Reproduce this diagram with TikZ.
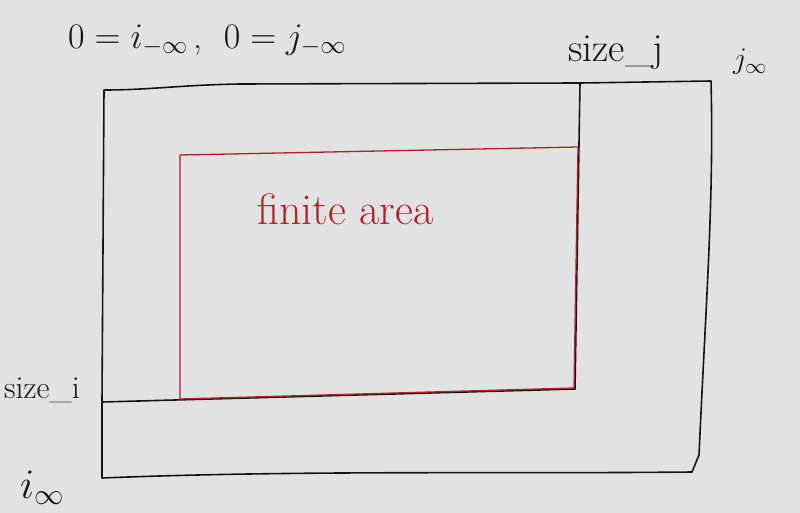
\RequirePackage{fix-cm}
\documentclass[tikz,border=0pt]{standalone}
\usepackage{fontspec}
\definecolor{paper}{RGB}{224,226,227}
\definecolor{ink}{RGB}{20,20,20}
\definecolor{redink}{RGB}{185,30,35}
\tikzset{
  blackline/.style={draw=ink, line width=1.6pt, line join=round, line cap=round},
  redline/.style={draw=redink, line width=1.3pt, line join=round, line cap=round},
  hand/.style={text=ink, inner sep=0pt},
  redhand/.style={text=redink, inner sep=0pt, font=\fontsize{44}{46}\selectfont}
}
\begin{document}
\begin{tikzpicture}[x=1pt,y=-1pt]
\fill[paper] (0,0) rectangle (800,513);
\useasboundingbox (0,0) rectangle (800,513);
% corner coordinates
\coordinate (otl) at (104,90);
\coordinate (sj) at (580,83);
\coordinate (otr) at (711,81);
\coordinate (obr) at (692,472);
\coordinate (obl) at (102,478);
\coordinate (si) at (102,402);
\coordinate (sjb) at (575,389);
\coordinate (rtl) at (180,155);
\coordinate (rtr) at (578,147);
\coordinate (rbr) at (574,388);
\coordinate (rbl) at (180,399);
% outer box
\draw[blackline] (otl) .. controls (150,90) and (180,85) .. (240,84) -- (sj) -- (otr)
  .. controls (714,200) and (706,300) .. (699,455) -- (obr)
  .. controls (500,474) and (300,470) .. (obl) -- (si) -- (otl);
% size lines
\draw[blackline] (sj) -- (sjb);
\draw[blackline] (si) -- (sjb);
% red finite area
\draw[redline] (rtl) -- (rtr) -- (rbr) -- (rbl) -- cycle;
% labels
\node[hand, anchor=west, font=\fontsize{36}{38}\selectfont] (top) at (68,40) {$0 = i_{-\infty}$\,,\; $0 = j_{-\infty}$};
\node[hand, anchor=base west, font=\fontsize{40}{42}\selectfont] (sizej) at (568,62) {size\_j};
\node[hand, anchor=west, font=\fontsize{30}{32}\selectfont] (jinf) at (733,62) {$j_\infty$};
\node[hand, anchor=base west, font=\fontsize{32}{34}\selectfont] (sizei) at (4,398) {size\_i};
\node[hand, anchor=west, font=\fontsize{42}{44}\selectfont] (iinf) at (20,488) {$i_\infty$};
\node[redhand, anchor=base west] (finite) at (257,225) {finite area};
\end{tikzpicture}
\end{document}
